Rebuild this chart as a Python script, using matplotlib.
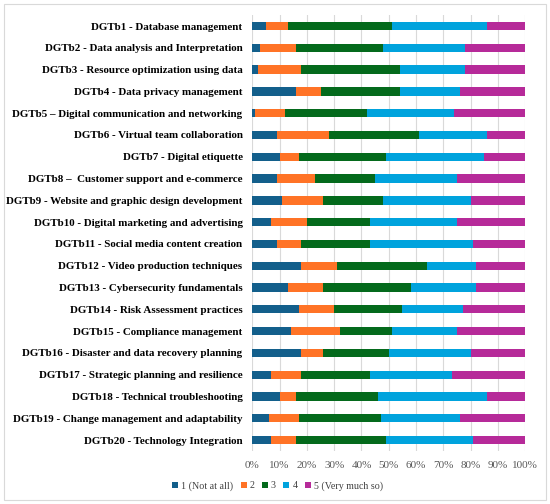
import matplotlib
matplotlib.use("Agg")
import matplotlib.pyplot as plt
import numpy as np
from matplotlib.patches import Rectangle

# Item labels, top to bottom
items = [
    "DGTb1 - Database management",
    "DGTb2 - Data analysis and Interpretation",
    "DGTb3 - Resource optimization using data",
    "DGTb4 - Data privacy management",
    "DGTb5 \u2013 Digital communication and networking",
    "DGTb6 - Virtual team collaboration",
    "DGTb7 - Digital etiquette",
    "DGTb8 \u2013  Customer support and e-commerce",
    "DGTb9 - Website and graphic design development",
    "DGTb10 - Digital marketing and advertising",
    "DGTb11 - Social media content creation",
    "DGTb12 - Video production techniques",
    "DGTb13 - Cybersecurity fundamentals",
    "DGTb14 - Risk Assessment practices",
    "DGTb15 - Compliance management",
    "DGTb16 - Disaster and data recovery planning",
    "DGTb17 - Strategic planning and resilience",
    "DGTb18 - Technical troubleshooting",
    "DGTb19 - Change management and adaptability",
    "DGTb20 - Technology Integration",
]

# Share of answers (%) per rating level
level1 = [5, 3, 2, 16, 1, 9, 10, 9, 11, 7, 9, 18, 13, 17, 14, 18, 7, 10, 6, 7]
level2 = [8, 13, 16, 9, 11, 19, 7, 14, 15, 13, 9, 13, 13, 13, 18, 8, 11, 6, 11, 9]
level3 = [38, 32, 36, 29, 30, 33, 32, 22, 22, 23, 25, 33, 32, 25, 19, 24, 25, 30, 30, 33]
level4 = [35, 30, 24, 22, 32, 25, 36, 30, 32, 32, 38, 18, 24, 22, 24, 30, 30, 40, 29, 32]
level5 = [14, 22, 22, 24, 26, 14, 15, 25, 20, 25, 19, 18, 18, 23, 25, 20, 27, 14, 24, 19]

level_names = ["1 (Not at all)", "2", "3", "4", "5 (Very much so)"]
colors = ["#135f8b", "#ff7326", "#046a1c", "#00a3dd", "#b62a99"]

series = [level1, level2, level3, level4, level5]

fig = plt.figure(figsize=(5.5, 5.04), dpi=100)
ax = fig.add_axes([0.4587, 0.1052, 0.4964, 0.8648])

y = np.arange(len(items))
left = np.zeros(len(items))
for vals, name, col in zip(series, level_names, colors):
    vals = np.array(vals, dtype=float)
    ax.barh(y, vals, left=left, height=0.38, color=col, label=name)
    left += vals

ax.set_xlim(0, 100)
ax.set_ylim(len(items) - 0.5, -0.5)
ax.set_xticks(np.arange(0, 101, 10))
ax.set_xticklabels([f"{t}%" for t in range(0, 101, 10)],
                   fontfamily="Liberation Serif", fontsize=8, color="#595959")
ax.set_yticks(y)
ax.set_yticklabels(items, fontfamily="Liberation Serif", fontweight="bold",
                   fontsize=7.9, color="black")
ax.tick_params(axis="both", length=0)
ax.tick_params(axis="y", pad=7)
ax.tick_params(axis="x", pad=7)
ax.grid(axis="x", color="#d9d9d9", linewidth=0.8)
ax.set_axisbelow(True)
for s in ax.spines.values():
    s.set_visible(False)

leg = fig.legend(loc="center", bbox_to_anchor=(0.5045, 0.036), ncol=5,
                 frameon=False, handlelength=0.6, handleheight=0.6,
                 handletextpad=0.3, columnspacing=0.75,
                 prop={"family": "Liberation Serif", "size": 7.2})
for t in leg.get_texts():
    t.set_color("#404040")

# light frame around the whole chart
fig.patches.append(Rectangle((4 / 550, 4 / 504), 542 / 550, 496 / 504,
                             transform=fig.transFigure, fill=False,
                             edgecolor="#d9d9d9", linewidth=0.8))

fig.savefig("out.png", dpi=100)
